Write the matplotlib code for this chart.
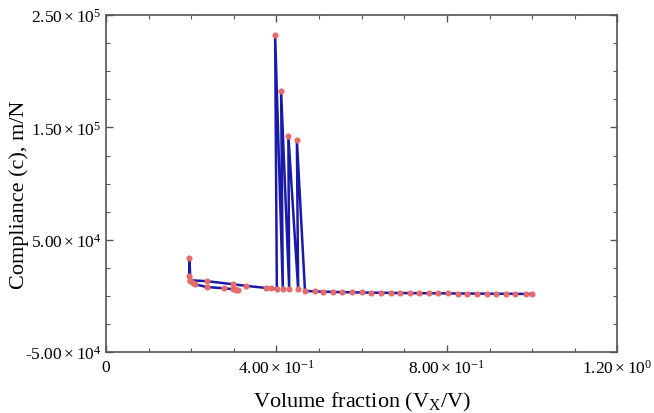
import matplotlib
matplotlib.use('Agg')
import matplotlib.pyplot as plt
from matplotlib.ticker import FixedLocator, MultipleLocator, FixedFormatter

plt.rcParams['font.family'] = ['Liberation Serif', 'DejaVu Serif']
plt.rcParams['mathtext.fontset'] = 'custom'
plt.rcParams['mathtext.rm'] = 'Liberation Serif'
plt.rcParams['mathtext.it'] = 'Liberation Serif:italic'

# volume fraction and compliance along the optimisation history
vf = [1.000, 0.985, 0.960, 0.938, 0.915, 0.893, 0.870, 0.848, 0.825, 0.803,
      0.780, 0.758, 0.735, 0.713, 0.690, 0.668, 0.645, 0.623, 0.600, 0.578,
      0.555, 0.533, 0.510, 0.490, 0.467,
      0.448, 0.451, 0.428, 0.430, 0.411, 0.415, 0.397, 0.401,
      0.388, 0.376, 0.329, 0.297, 0.236, 0.198, 0.196, 0.196,
      0.198, 0.204, 0.210, 0.236, 0.278, 0.298, 0.302, 0.305, 0.309]
comp = [1800, 1850, 1900, 1950, 2000, 2050, 2100, 2150, 2200, 2300,
        2350, 2400, 2500, 2550, 2650, 2750, 2850, 2950, 3100, 3250,
        3400, 3600, 3800, 4100, 4500,
        138700, 6000, 142600, 6200, 182600, 6300, 232500, 6400,
        6700, 7100, 9000, 10500, 13200, 14000, 17900, 33700,
        13000, 11500, 10300, 8000, 6800, 6100, 5900, 5700, 5500]

xticks = [0, 0.4, 0.8, 1.2]
xticklabels = ['0', r'$\mathregular{4.00\times10^{-1}}$',
               r'$\mathregular{8.00\times10^{-1}}$', r'$\mathregular{1.20\times10^{0}}$']
yticks = [-5e4, 5e4, 1.5e5, 2.5e5]
yticklabels = [r'-$\mathregular{5.00\times10^{4}}$', r'$\mathregular{5.00\times10^{4}}$',
               r'$\mathregular{1.50\times10^{5}}$', r'$\mathregular{2.50\times10^{5}}$']

fig = plt.figure(figsize=(6.54, 4.14), dpi=100)
ax = fig.add_axes([0.162, 0.147, 0.782, 0.814])

ax.plot(vf, comp, color='#1a1aa8', lw=1.8, marker='o', ms=3.4,
        mfc='#e46c6c', mec='#e46c6c', zorder=3)

ax.set_xlim(0, 1.2)
ax.set_ylim(-5e4, 2.5e5)
ax.xaxis.set_major_locator(FixedLocator(xticks))
ax.xaxis.set_major_formatter(FixedFormatter(xticklabels))
ax.xaxis.set_minor_locator(MultipleLocator(0.1))
ax.yaxis.set_major_locator(FixedLocator(yticks))
ax.yaxis.set_major_formatter(FixedFormatter(yticklabels))
ax.yaxis.set_minor_locator(MultipleLocator(2.5e4))

ax.tick_params(which='both', direction='in', top=True, right=True,
               color='#555555', labelsize=12.5)
ax.tick_params(which='major', length=5, width=1, pad=3)
ax.tick_params(axis='x', which='major', pad=5)
ax.tick_params(which='minor', length=3, width=0.8)
for s in ax.spines.values():
    s.set_color('#555555')
    s.set_linewidth(1.2)

ax.set_xlabel(r'Volume fraction (V$_\mathregular{X}$/V)', fontsize=16, labelpad=9)
ax.set_ylabel('Compliance (c), m/N', fontsize=16)
ax.yaxis.set_label_coords(-0.15, 0.47)

fig.savefig('out.png', dpi=100)
